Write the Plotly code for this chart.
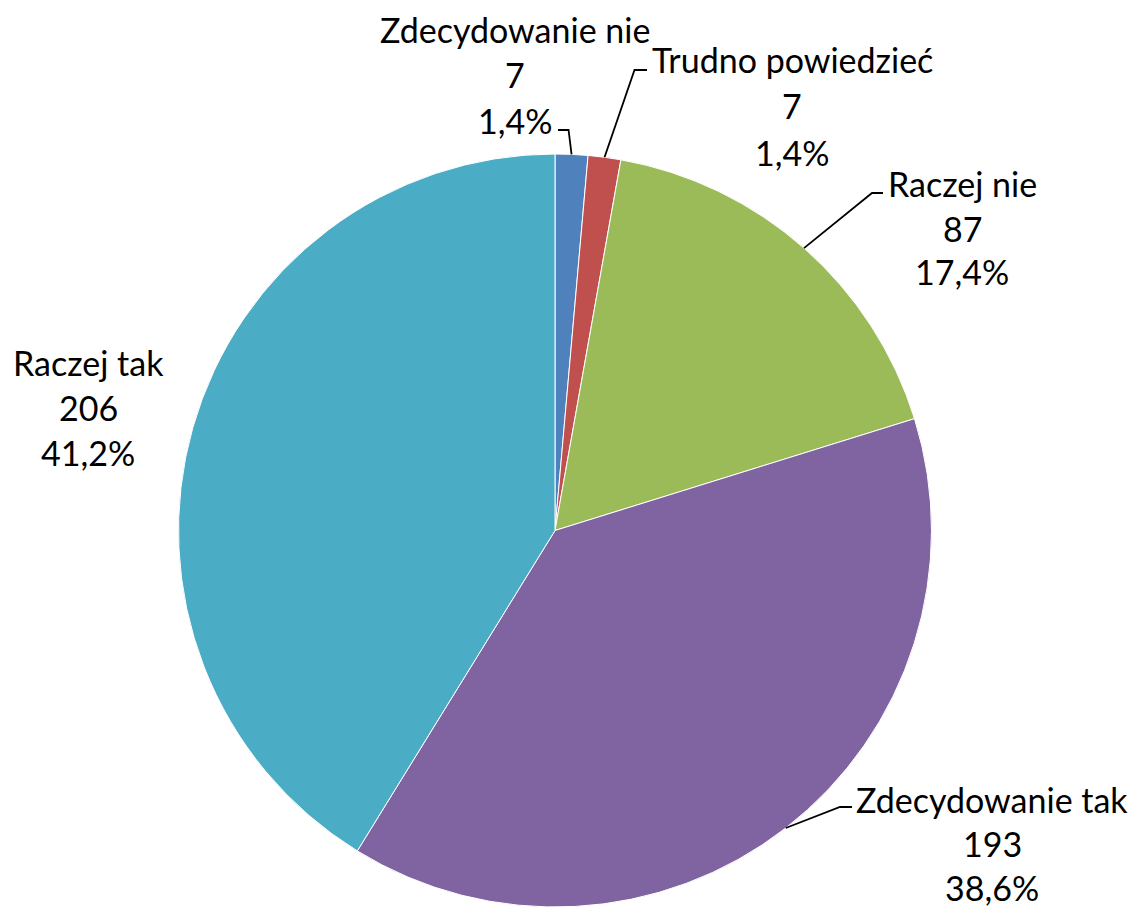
import plotly.graph_objects as go
import math

# Survey answers, in clockwise order from 12 o'clock
categories = ["Zdecydowanie nie", "Trudno powiedzieć", "Raczej nie", "Zdecydowanie tak", "Raczej tak"]
counts = [7, 7, 87, 193, 206]
colors = ["#4F81BD", "#C0504D", "#9BBB59", "#8064A2", "#4BACC6"]

W, H = 1134, 907
total = sum(counts)

# Pie placement in pixels
cx, top = 555, 154
r = (H - top) / 2
cy = top + r

dom_x = [(cx - r) / W, (cx + r) / W]
dom_y = [0, 1 - top / H]

fig = go.Figure(go.Pie(
    labels=categories,
    values=counts,
    sort=False,
    direction="clockwise",
    rotation=0,
    marker=dict(colors=colors, line=dict(color="white", width=1)),
    textinfo="none",
    hoverinfo="label+value+percent",
    domain=dict(x=dom_x, y=dom_y),
    showlegend=False,
))

def px(x):
    return x / W

def py(y):
    return 1 - y / H

# label block centres, line spacing and leader-line elbows (pixel coordinates)
label_pos = [(515, 75, 46), (792, 106, 46), (962, 228, 44), (992, 843, 44), (88, 407, 45)]
leaders = [
    [(-3, 130), (558, 130)],
    [(634.5, 70), (647, 70)],
    [(872, 193), (883, 193)],
    [(840, 807), (852, 807)],
    None,
]

shapes = []
annotations = []
cum = 0
for name, val, pos, lead in zip(categories, counts, label_pos, leaders):
    mid = (cum + val / 2) / total * 2 * math.pi
    cum += val
    ex = cx + r * math.sin(mid)
    ey = cy - r * math.cos(mid)
    pct = f"{100 * val / total:.1f}".replace(".", ",")
    lx, ly, gap = pos
    for k, line in enumerate([name, str(val), pct + "%"]):
        annotations.append(dict(
            x=px(lx), y=py(ly + (k - 1) * gap),
            xref="paper", yref="paper",
            text=line,
            showarrow=False, xanchor="center", yanchor="middle", align="center",
            font=dict(family="Lato", size=34, color="black"),
            borderpad=0,
        ))
    if lead:
        (bx, by), (tx, ty) = lead
        if bx < 0:
            bx = ex + bx
        path = f"M {px(ex)} {py(ey)} L {px(bx)} {py(by)} L {px(tx)} {py(ty)}"
        shapes.append(dict(type="path", path=path, xref="paper", yref="paper",
                           line=dict(color="black", width=1.8)))

fig.update_layout(
    width=W, height=H,
    margin=dict(l=0, r=0, t=0, b=0),
    paper_bgcolor="white",
    plot_bgcolor="white",
    shapes=shapes,
    annotations=annotations,
)

fig.write_html("out.html")
